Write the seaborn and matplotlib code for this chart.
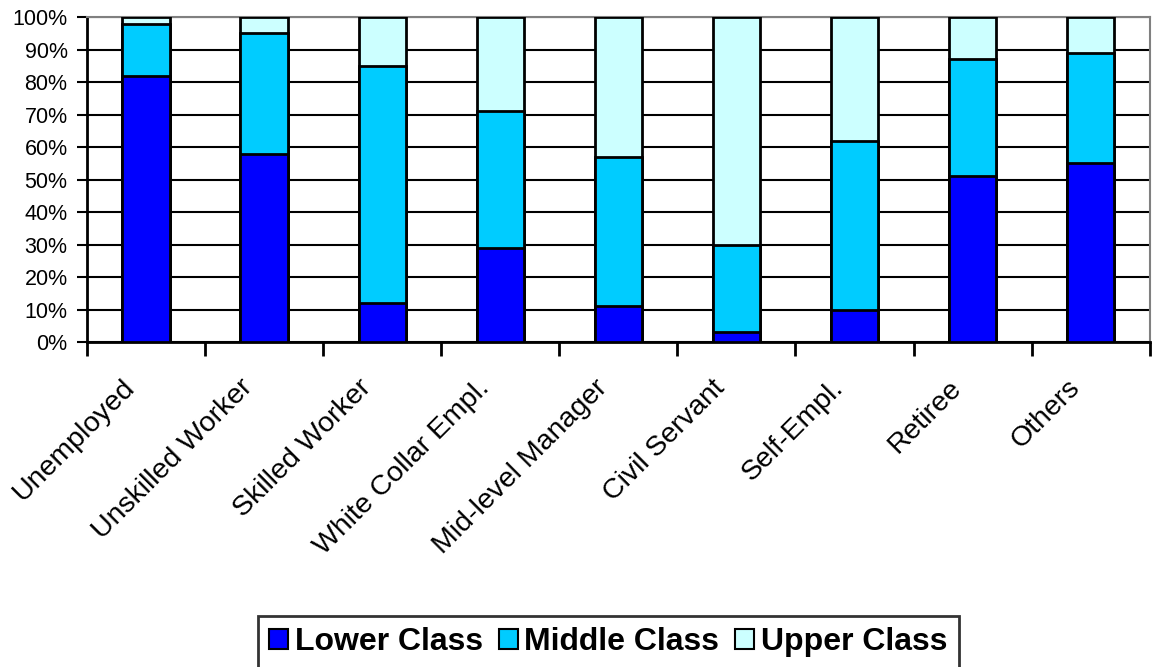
import matplotlib
matplotlib.use("Agg")
import matplotlib.pyplot as plt
import matplotlib.transforms as mtransforms
import numpy as np
import pandas as pd
import seaborn as sns
from matplotlib.patches import Patch
from matplotlib.ticker import FixedLocator, PercentFormatter


CATEGORIES = [
    "Unemployed", "Unskilled Worker", "Skilled Worker", "White Collar Empl.",
    "Mid-level Manager", "Civil Servant", "Self-Empl.", "Retiree", "Others",
]
LOWER = [82, 58, 12, 29, 11, 3, 10, 51, 55]
MIDDLE = [16, 37, 73, 42, 46, 27, 52, 36, 34]
UPPER = [2, 5, 15, 29, 43, 70, 38, 13, 11]

SERIES = ["Lower Class", "Middle Class", "Upper Class"]
COLORS = ["#0000FF", "#00CCFF", "#CCFFFF"]


def main() -> None:
    sns.set_theme(style="white")
    plt.rcParams["font.family"] = ["Liberation Sans", "DejaVu Sans"]
    plt.rcParams["text.color"] = "black"
    plt.rcParams["xtick.color"] = "black"
    plt.rcParams["ytick.color"] = "black"

    df = pd.DataFrame({
        "category": CATEGORIES,
        "lower": LOWER,
        "middle": MIDDLE,
        "upper": UPPER,
    })
    df["c_lower"] = df["lower"]
    df["c_middle"] = df["lower"] + df["middle"]
    df["c_upper"] = df["c_middle"] + df["upper"]

    fig = plt.figure(figsize=(11.52, 6.67), dpi=100)
    ax = fig.add_axes([0.0755, 0.487, 0.9225, 0.4875])

    # stacked look: draw cumulative totals from the top down
    for col, color in zip(["c_upper", "c_middle", "c_lower"], COLORS[::-1]):
        sns.barplot(
            data=df, x="category", y=col, color=color, width=0.4,
            edgecolor="black", linewidth=2, saturation=1, ax=ax, zorder=3,
        )

    ax.set_xlim(-0.5, len(CATEGORIES) - 0.5)
    ax.set_ylim(0, 100)
    ax.set_yticks(np.arange(0, 101, 10))
    ax.yaxis.set_major_formatter(PercentFormatter(decimals=0))
    ax.grid(axis="y", color="black", linewidth=1.5, zorder=0)
    ax.set_xlabel("")
    ax.set_ylabel("")

    for side in ["top", "right"]:
        ax.spines[side].set_color("#808080")
        ax.spines[side].set_linewidth(1.5)
    for side in ["left", "bottom"]:
        ax.spines[side].set_color("black")
        ax.spines[side].set_linewidth(2)

    ax.tick_params(axis="y", which="major", direction="out", length=7, width=1.5,
                   color="black", labelcolor="black", labelsize=15.5, pad=7, left=True)
    ax.xaxis.set_minor_locator(FixedLocator(np.arange(-0.5, len(CATEGORIES), 1)))
    ax.tick_params(axis="x", which="minor", direction="out", length=10, width=2,
                   color="black", bottom=True)
    ax.tick_params(axis="x", which="major", length=0, pad=30, labelcolor="black")
    ax.set_xticks(range(len(CATEGORIES)))
    ax.set_xticklabels(CATEGORIES, rotation=45, ha="right", va="center",
                       rotation_mode="anchor", fontsize=20.5)
    shift = mtransforms.ScaledTranslation(-0.15, 0, fig.dpi_scale_trans)
    for label in ax.get_xticklabels():
        label.set_transform(label.get_transform() + shift)

    handles = [Patch(facecolor=c, edgecolor="black", linewidth=1.5) for c in COLORS]
    leg = fig.legend(
        handles, SERIES, loc="upper center", bbox_to_anchor=(0.528, 0.1),
        ncol=3, frameon=True, fancybox=False, edgecolor="black",
        prop={"weight": "bold", "size": 23}, handlelength=0.6, handleheight=0.6,
        handletextpad=0.2, columnspacing=0.5, borderpad=0.35,
    )
    leg.get_frame().set_linewidth(2)

    fig.savefig("out.png", dpi=100, facecolor="white")
    plt.close(fig)


if __name__ == "__main__":
    main()
